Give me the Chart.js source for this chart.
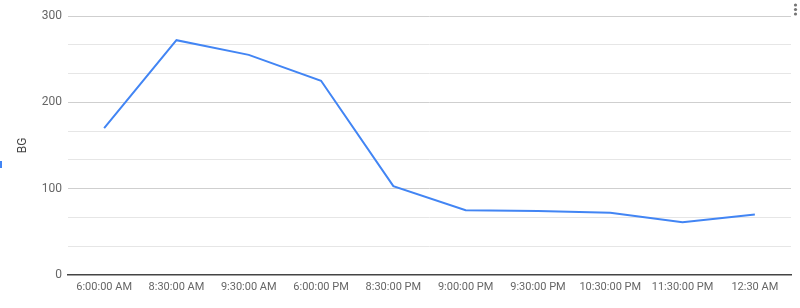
<!DOCTYPE html>
<html>
<head>
<meta charset="utf-8">
<script src="https://cdn.jsdelivr.net/npm/chart.js@4"></script>
<style>
html,body{margin:0;padding:0;background:#fff;}
#wrap{width:800px;height:308px;position:relative;}
</style>
</head>
<body>
<div id="wrap"><canvas id="c" width="800" height="308"></canvas></div>
<script>
const categories = ["6:00:00 AM","8:30:00 AM","9:30:00 AM","6:00:00 PM","8:30:00 PM","9:00:00 PM","9:30:00 PM","10:30:00 PM","11:30:00 PM","12:30 AM"];
const bgValues = [170, 272, 255, 225, 103, 75, 74, 72, 61, 70];
const yTickLabels = [0, 100, 200, 300];

const decor = {
  id: 'decor',
  afterDraw(chart) {
    const ctx = chart.ctx;
    ctx.save();
    ctx.fillStyle = '#4285f4';
    ctx.fillRect(0, 161, 2, 7);
    ctx.fillStyle = '#757575';
    [5, 9.5, 14].forEach(y => {
      ctx.beginPath();
      ctx.arc(795.5, y, 1.6, 0, Math.PI * 2);
      ctx.fill();
    });
    ctx.restore();
  }
};

new Chart(document.getElementById('c'), {
  type: 'line',
  data: {
    labels: categories,
    datasets: [{
      label: 'BG',
      data: bgValues,
      borderColor: '#4285f4',
      borderWidth: 2,
      pointRadius: 0,
      tension: 0,
      fill: false
    }]
  },
  options: {
    responsive: false,
    animation: false,
    layout: { padding: { top: 16, right: 9, left: 0, bottom: 0 } },
    plugins: { legend: { display: false }, tooltip: { enabled: false } },
    scales: {
      x: {
        offset: true,
        grid: { display: false, drawTicks: false },
        border: { display: true, color: '#444', width: 1.5 },
        ticks: {
          autoSkip: false, maxRotation: 0, padding: 6,
          color: '#666', font: { family: 'Roboto', size: 11 }
        },
        afterFit(s) { s.height = 33; }
      },
      y: {
        min: 0, max: 300,
        afterBuildTicks(s) {
          const t = [];
          for (let i = 0; i <= 9; i++) t.push({ value: i * 100 / 3 });
          s.ticks = t;
        },
        grid: {
          drawTicks: false,
          color: c => {
            const v = Math.round(c.tick.value);
            if (v === 0) return 'rgba(0,0,0,0)';
            return yTickLabels.includes(v) ? '#cfcfcf' : '#e6e6e6';
          },
          lineWidth: 1
        },
        border: { display: false },
        ticks: {
          padding: 6,
          color: '#666', font: { family: 'Roboto', size: 12 },
          callback: v => { const r = Math.round(v); return (yTickLabels.includes(r) && Math.abs(v - r) < 0.01) ? String(r) : ''; }
        },
        title: {
          display: true, text: 'BG', color: '#444',
          font: { family: 'Roboto', size: 12 },
          padding: { top: 16, bottom: 0 }
        },
        afterFit(s) { s.width = 68; }
      }
    }
  },
  plugins: [decor]
});
</script>
</body>
</html>
